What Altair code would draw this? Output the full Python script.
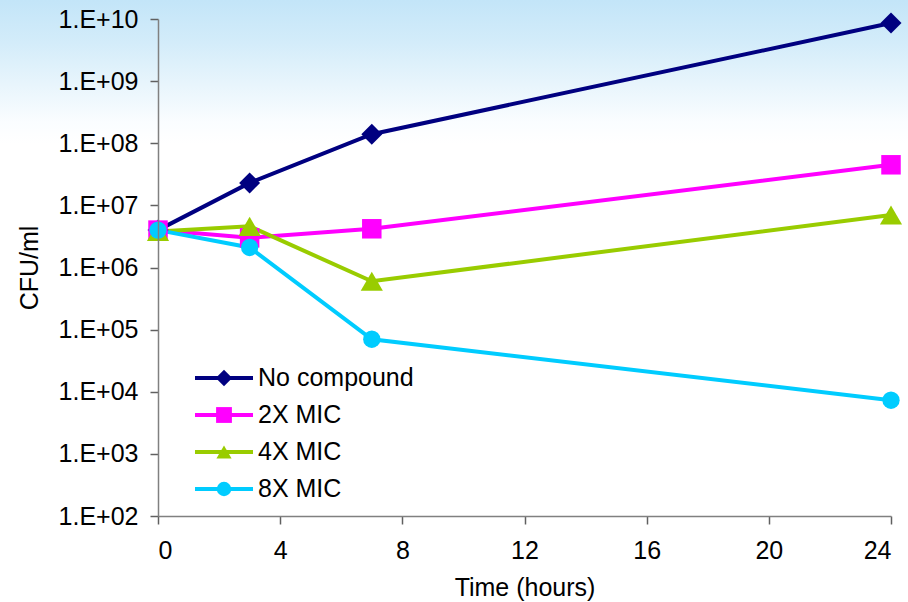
import altair as alt
import pandas as pd

# Time-kill curve: viable counts (CFU/ml) over 24 h
hours = [0, 3, 7, 24]
series_names = ["No compound", "2X MIC", "4X MIC", "8X MIC"]
no_compound = [4.0e6, 2.3e7, 1.4e8, 8.6e9]
mic_2x = [4.0e6, 3.0e6, 4.2e6, 4.5e7]
mic_4x = [3.8e6, 4.6e6, 6.0e5, 7.0e6]
mic_8x = [4.0e6, 2.1e6, 7.0e4, 7.3e3]

colors = ["#000080", "#FF00FF", "#99CC00", "#00CCFF"]
shapes = ["diamond", "square", "triangle-up", "circle"]
sizes = [440, 380, 490, 300]
key_sizes = [270, 210, 340, 250]
y_ticks = [1e2, 1e3, 1e4, 1e5, 1e6, 1e7, 1e8, 1e9, 1e10]
x_ticks = [0, 4, 8, 12, 16, 20, 24]

rows = []
for name, vals in zip(series_names, [no_compound, mic_2x, mic_4x, mic_8x]):
    for t, v in zip(hours, vals):
        rows.append({"series": name, "time": t, "cfu": v})
df = pd.DataFrame(rows)
key_df = pd.DataFrame({"series": series_names})

FONT = "Liberation Sans"
FS = 25

color_enc = alt.Color("series:N", scale=alt.Scale(domain=series_names, range=colors), legend=None)

x_enc = alt.X(
    "time:Q",
    scale=alt.Scale(domain=[0, 24], nice=False),
    axis=alt.Axis(values=x_ticks, title="Time (hours)", grid=False, zindex=1),
)
y_enc = alt.Y(
    "cfu:Q",
    scale=alt.Scale(type="log", domain=[1e2, 1e10], nice=False),
    axis=alt.Axis(
        values=y_ticks,
        title="CFU/ml",
        grid=False,
        zindex=1,
        labelExpr="'1.E+' + (datum.value < 1e10 ? '0' : '') + format(log(datum.value) / LN10, '.0f')",
    ),
)

# soft sky-blue wash across the top of the canvas
backdrop = alt.Chart(pd.DataFrame({"k": [0]})).mark_rect(
    color=alt.LinearGradient(
        gradient="linear",
        stops=[
            alt.GradientStop(color="#c3e5f8", offset=0),
            alt.GradientStop(color="#d3ecfa", offset=0.25),
            alt.GradientStop(color="#e8f5fc", offset=0.5),
            alt.GradientStop(color="#fafdff", offset=0.72),
            alt.GradientStop(color="#ffffff", offset=0.85),
        ],
        x1=0, x2=0, y1=0, y2=1,
    )
).encode(x=alt.value(-158), x2=alt.value(750), y=alt.value(-19), y2=alt.value(150))

lines = alt.Chart(df).mark_line(strokeWidth=4).encode(
    x=x_enc, y=y_enc, order="time:Q", color=color_enc
)

# one marker layer per series
marker_layers = [
    alt.Chart(df)
    .transform_filter(alt.datum.series == name)
    .mark_point(shape=shp, size=sz, filled=True, color=col, opacity=1, strokeWidth=0)
    .encode(x="time:Q", y="cfu:Q")
    for name, shp, sz, col in zip(series_names, shapes, sizes, colors)
]

plot = alt.layer(backdrop, lines, *marker_layers)

# key in the lower-left of the plot: line segment, marker and series name per row
key_y = alt.Y(
    "series:N",
    scale=alt.Scale(type="point", domain=series_names, range=[359, 470], padding=0),
    axis=None,
)
key_lines = alt.Chart(key_df).mark_rule(strokeWidth=4).encode(
    x=alt.value(37), x2=alt.value(95), y=key_y, color=color_enc
)
key_marks = alt.Chart(key_df).mark_point(filled=True, opacity=1, strokeWidth=0).encode(
    x=alt.value(66),
    y=key_y,
    color=color_enc,
    shape=alt.Shape("series:N", scale=alt.Scale(domain=series_names, range=shapes), legend=None),
    size=alt.Size("series:N", scale=alt.Scale(domain=series_names, range=key_sizes), legend=None),
)
key_text = alt.Chart(key_df).mark_text(
    align="left", baseline="middle", font=FONT, fontSize=FS, color="#000000"
).encode(x=alt.value(100), y=key_y, text="series:N")

chart = (
    alt.layer(plot, key_lines, key_marks, key_text)
    .resolve_scale(y="independent")
    .properties(
        width=733,
        height=497,
        autosize=alt.AutoSizeParams(type="none"),
        padding={"left": 158, "top": 19, "right": 17, "bottom": 86},
        background="#ffffff",
    )
    .configure_view(stroke=None)
    .configure_axis(
        labelFont=FONT,
        labelFontSize=FS,
        labelColor="#000000",
        titleFont=FONT,
        titleFontSize=FS,
        titleFontWeight="normal",
        titleColor="#000000",
        domainColor="#808080",
        domainWidth=1.5,
        tickColor="#606060",
        tickWidth=1.5,
        tickSize=8,
    )
    .configure_axisY(labelPadding=12, titlePadding=16)
    .configure_axisX(labelPadding=14, titlePadding=12)
)

chart.save("out.html", embed_options={"renderer": "svg", "actions": False})
